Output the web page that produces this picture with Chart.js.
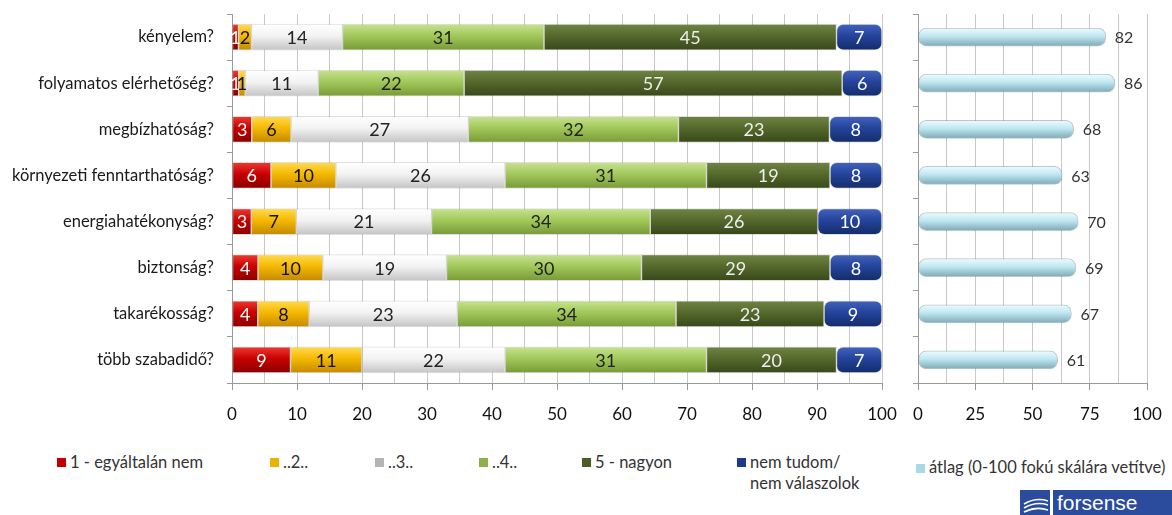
<!DOCTYPE html>
<html><head><meta charset="utf-8">
<script src="https://cdn.jsdelivr.net/npm/chart.js@4.4.1/dist/chart.umd.min.js"></script>
<style>
html,body{margin:0;padding:0;background:#fff;width:1172px;height:515px;overflow:hidden;font-family:Lato,"Open Sans",sans-serif;}
#wrap{position:relative;width:1172px;height:515px;}
canvas{position:absolute;top:0;}
.leg{position:absolute;font-size:16.5px;color:#333;line-height:21px;white-space:nowrap;}
.sw{position:absolute;width:9px;height:9px;}
#logo{position:absolute;left:1020px;top:490px;width:152px;height:25px;}
#logo .ic{position:absolute;left:0;top:0;width:30px;height:25px;background:#2b4c9c;}
#logo .tx{position:absolute;left:33px;top:0;width:119px;height:25px;background:#2b4c9c;color:#fff;font-family:"Liberation Sans Narrow","Liberation Sans",sans-serif;font-size:21px;line-height:25px;padding-left:4px;box-sizing:border-box;}
</style></head><body>
<div id="wrap">
<canvas id="c1" width="900" height="440" style="left:0"></canvas>
<canvas id="c2" width="272" height="440" style="left:900px"></canvas>
<div id="legend"></div>
<div id="logo"><div class="ic"><svg width="30" height="25"><g fill="none" stroke="#fff" stroke-width="1.6"><path d="M4 22 Q16 16 28 20"/><path d="M4 18 Q16 11 28 15"/><path d="M4 14 Q16 7 28 11"/></g></svg></div><div class="tx">forsense</div></div>
</div>
<script>
const categories = ['kényelem?','folyamatos elérhetőség?','megbízhatóság?','környezeti fenntarthatóság?','energiahatékonyság?','biztonság?','takarékosság?','több szabadidő?'];
const seriesNames = ['1 - egyáltalán nem','..2..','..3..','..4..','5 - nagyon','nem tudom/\nnem válaszolok'];
const s1 = [1,1,3,6,3,4,4,9];
const s2 = [2,1,6,10,7,10,8,11];
const s3 = [14,11,27,26,21,19,23,22];
const s4 = [31,22,32,31,34,30,34,31];
const s5 = [45,57,23,19,26,29,23,20];
const s6 = [7,6,8,8,10,8,9,7];
const avgName = 'átlag (0-100 fokú skálára vetítve)';
const avg = [82,86,68,63,70,69,67,61];
const leftTicks = [0,10,20,30,40,50,60,70,80,90,100];
const rightTicks = [0,25,50,75,100];

const series = [s1,s2,s3,s4,s5,s6];
const stops = [
  ['#ee3a30','#c80000','#8a0000'],
  ['#ffdb50','#f5b800','#c48a00'],
  ['#ffffff','#f3f3f3','#c4c4c4'],
  ['#c6e290','#a2c85a','#789a38'],
  ['#6e8544','#55692c','#38481a'],
  ['#4262bc','#24449c','#142c6a']
];
const labelColors = ['#fff','#111','#222','#222','#eee','#fff'];
const legendColors = ['#c00000','#e8b400','#b4b4b4','#8db04a','#4a5e26','#1f3a8a'];
const avgStops = ['#eefbfe','#bfe7f1','#7eaab6'];
const FONT = 'Lato, "Open Sans", sans-serif';

function grad(st, half){
  return (ctx)=>{
    const ch = ctx.chart;
    if(!ch.chartArea || !ch.scales.y) return st[1];
    const y = ch.scales.y.getPixelForValue(ctx.dataIndex);
    const g = ch.ctx.createLinearGradient(0, y-half, 0, y+half);
    g.addColorStop(0, st[0]); g.addColorStop(0.45, st[1]); g.addColorStop(1, st[2]);
    return g;
  };
}

const rowSums = categories.map((_, i) => series.reduce((a, s) => a + s[i], 0));

const labelPlugin = {
  id: 'vals',
  afterDatasetsDraw(chart, args, opts){
    const c = chart.ctx;
    c.save();
    c.textBaseline = 'middle';
    c.font = opts.font;
    chart.data.datasets.forEach((ds, di) => {
      const meta = chart.getDatasetMeta(di);
      meta.data.forEach((bar, i) => {
        const raw = ds.raw[i];
        c.fillStyle = opts.colors[di];
        if (opts.outside) {
          c.textAlign = 'left';
          c.fillText(String(raw), bar.x + 9, bar.y + 1);
        } else {
          c.textAlign = 'center';
          c.fillText(String(raw), (bar.x + bar.base) / 2, bar.y + 1);
        }
      });
    });
    c.restore();
  }
};

const gridColor = '#c9c9c9';
const axisColor = '#9a9a9a';

function fitX(s){ s.height = 57; s.paddingLeft = 0; s.paddingRight = 0; }
function fitY(w){ return s => { s.width = w; s.paddingTop = 0; s.paddingBottom = 0; }; }

new Chart(document.getElementById('c1'), {
  type: 'bar',
  data: {
    labels: categories,
    datasets: series.map((s, k) => ({
      label: seriesNames[k],
      raw: s,
      data: s.map((v, i) => v / rowSums[i] * 100),
      backgroundColor: grad(stops[k], 13),
      borderColor: 'rgba(0,0,0,0.12)',
      borderWidth: 1,
      borderRadius: 7,
      borderSkipped: false,
      barThickness: 26
    }))
  },
  options: {
    indexAxis: 'y',
    responsive: false,
    animation: false,
    devicePixelRatio: 1,
    layout: { padding: { top: 14, right: 18, left: 0, bottom: 0 } },
    plugins: {
      legend: { display: false },
      tooltip: { enabled: false },
      vals: { font: '18px ' + FONT, colors: labelColors, outside: false }
    },
    scales: {
      x: {
        stacked: true, min: 0, max: 100,
        afterFit: fitX,
        afterBuildTicks: s => { const t = []; for (let v = 0; v <= 100; v += 5) t.push({ value: v }); s.ticks = t; },
        ticks: {
          autoSkip: false, maxRotation: 0, padding: 14,
          color: '#111', font: { size: 17, family: FONT },
          callback: v => leftTicks.includes(v) ? String(v) : ''
        },
        grid: {
          color: gridColor, lineWidth: 1, tickLength: 7,
          tickColor: ctx => (ctx.tick && ctx.tick.value % 10 === 0) ? axisColor : 'rgba(0,0,0,0)'
        },
        border: { color: axisColor }
      },
      y: {
        stacked: true,
        afterFit: fitY(232),
        ticks: { color: '#1a1a1a', padding: 13, font: { size: 16.5, family: FONT } },
        grid: { offset: true, drawOnChartArea: false, tickLength: 5, tickColor: axisColor },
        border: { color: axisColor }
      }
    }
  },
  plugins: [labelPlugin]
});

new Chart(document.getElementById('c2'), {
  type: 'bar',
  data: {
    labels: categories,
    datasets: [{
      label: avgName,
      raw: avg,
      data: avg,
      backgroundColor: grad(avgStops, 9),
      borderColor: 'rgba(60,100,110,0.35)',
      borderWidth: 1,
      borderRadius: 8,
      borderSkipped: false,
      barThickness: 18
    }]
  },
  options: {
    indexAxis: 'y',
    responsive: false,
    animation: false,
    devicePixelRatio: 1,
    layout: { padding: { top: 14, right: 25, left: 0, bottom: 0 } },
    plugins: {
      legend: { display: false },
      tooltip: { enabled: false },
      vals: { font: '16px ' + FONT, colors: ['#333'], outside: true }
    },
    scales: {
      x: {
        min: 0, max: 100,
        afterFit: fitX,
        afterBuildTicks: s => { const t = []; for (let v = 0; v <= 100; v += 12.5) t.push({ value: v }); s.ticks = t; },
        ticks: {
          autoSkip: false, maxRotation: 0, padding: 14,
          color: '#111', font: { size: 17, family: FONT },
          callback: v => rightTicks.includes(v) ? String(v) : ''
        },
        grid: {
          color: gridColor, lineWidth: 1, tickLength: 7,
          tickColor: ctx => (ctx.tick && ctx.tick.value % 25 === 0) ? axisColor : 'rgba(0,0,0,0)'
        },
        border: { color: axisColor }
      },
      y: {
        afterFit: fitY(18),
        ticks: { callback: () => '', padding: 0 },
        grid: { offset: true, drawOnChartArea: false, tickLength: 5, tickColor: axisColor },
        border: { color: axisColor }
      }
    }
  },
  plugins: [labelPlugin]
});

// legend
const legPos = [[57,452],[270,452],[375,452],[479,452],[582,452],[737,452]];
const legend = document.getElementById('legend');
seriesNames.forEach((n, k) => {
  const sw = document.createElement('div');
  sw.className = 'sw';
  sw.style.left = legPos[k][0] + 'px';
  sw.style.top = (legPos[k][1] + 6) + 'px';
  sw.style.background = legendColors[k];
  legend.appendChild(sw);
  const d = document.createElement('div');
  d.className = 'leg';
  d.style.left = (legPos[k][0] + 13) + 'px';
  d.style.top = legPos[k][1] + 'px';
  d.innerHTML = n.replace('\n', '<br>');
  legend.appendChild(d);
});
const sw7 = document.createElement('div');
sw7.className = 'sw';
sw7.style.left = '916px'; sw7.style.top = '464px'; sw7.style.background = '#a9d8e6';
legend.appendChild(sw7);
const d7 = document.createElement('div');
d7.className = 'leg';
d7.style.left = '929px'; d7.style.top = '457px';
d7.textContent = avgName;
legend.appendChild(d7);
</script>
</body></html>
